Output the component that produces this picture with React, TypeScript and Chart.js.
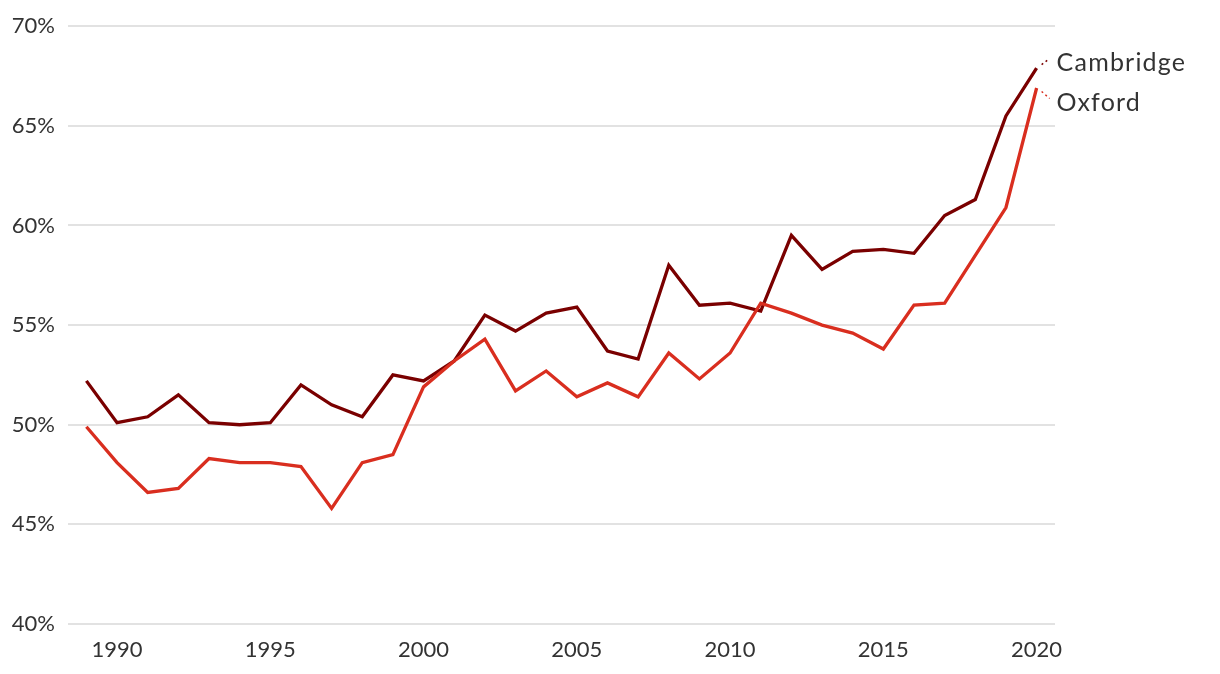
import React, { useEffect, useRef } from "react";
import { Chart, registerables } from "chart.js";

Chart.register(...registerables);

const years = [
  1989, 1990, 1991, 1992, 1993, 1994, 1995, 1996, 1997, 1998, 1999, 2000, 2001,
  2002, 2003, 2004, 2005, 2006, 2007, 2008, 2009, 2010, 2011, 2012, 2013, 2014,
  2015, 2016, 2017, 2018, 2019, 2020,
];

const cambridge = [
  52.2, 50.1, 50.4, 51.5, 50.1, 50.0, 50.1, 52.0, 51.0, 50.4, 52.5, 52.2, 53.2,
  55.5, 54.7, 55.6, 55.9, 53.7, 53.3, 58.0, 56.0, 56.1, 55.7, 59.5, 57.8, 58.7,
  58.8, 58.6, 60.5, 61.3, 65.5, 67.9,
];

const oxford = [
  49.9, 48.1, 46.6, 46.8, 48.3, 48.1, 48.1, 47.9, 45.8, 48.1, 48.5, 51.9, 53.2,
  54.3, 51.7, 52.7, 51.4, 52.1, 51.4, 53.6, 52.3, 53.6, 56.1, 55.6, 55.0, 54.6,
  53.8, 56.0, 56.1, 58.5, 60.9, 66.9,
];

const xTickYears = [1990, 1995, 2000, 2005, 2010, 2015, 2020];
const yTickValues = [40, 45, 50, 55, 60, 65, 70];

const seriesNames = ["Cambridge", "Oxford"];

const FONT = "Lato, 'Noto Sans', sans-serif";
const TEXT = "#333333";

const endLabels = {
  id: "endLabels",
  afterDatasetsDraw(chart: any, _args: any, opts: any) {
    const ctx = chart.ctx;
    const offsets: Record<string, number> = opts.offsets || {};
    chart.data.datasets.forEach((ds: any, i: number) => {
      const meta = chart.getDatasetMeta(i);
      const pt = meta.data[meta.data.length - 1];
      if (!pt) return;
      const x = pt.x;
      const y = pt.y;
      const labelY = y + (offsets[ds.label] ?? 0);
      const labelX = x + 20;
      const dir = labelY - 4.5 < y ? -1 : 1;
      ctx.save();
      ctx.strokeStyle = ds.borderColor;
      ctx.lineWidth = 1.5;
      ctx.setLineDash([2, 3]);
      ctx.beginPath();
      ctx.moveTo(x + 5, y + dir * 3.5);
      ctx.lineTo(x + 13, labelY - 4.5);
      ctx.stroke();
      ctx.setLineDash([]);
      ctx.fillStyle = TEXT;
      ctx.font = `25px ${FONT}`;
      try {
        (ctx as any).letterSpacing = "1.2px";
      } catch (e) {}
      ctx.textAlign = "left";
      ctx.textBaseline = "middle";
      ctx.fillText(ds.label, labelX, labelY);
      ctx.restore();
    });
  },
};

export default function App() {
  const ref = useRef<HTMLCanvasElement | null>(null);

  useEffect(() => {
    if (!ref.current) return;
    const toPts = (arr: number[]) => years.map((yr, i) => ({ x: yr, y: arr[i] }));
    const chart = new Chart(ref.current, {
      type: "line",
      data: {
        datasets: [
          {
            label: seriesNames[1],
            data: toPts(oxford),
            borderColor: "#d92e1f",
            borderWidth: 3.3,
            pointRadius: 0,
            tension: 0,
          },
          {
            label: seriesNames[0],
            data: toPts(cambridge),
            borderColor: "#7a0000",
            borderWidth: 3.3,
            pointRadius: 0,
            tension: 0,
          },
        ],
      },
      options: {
        animation: false,
        responsive: false,
        layout: { padding: { top: 24, right: 165, left: 0, bottom: 0 } },
        plugins: {
          legend: { display: false },
          tooltip: { enabled: false },
          endLabels: { offsets: { Cambridge: -5, Oxford: 15 } },
        } as any,
        scales: {
          x: {
            type: "linear",
            min: 1988.4,
            max: 2020.6,
            afterBuildTicks: (scale: any) => {
              scale.ticks = xTickYears.map((v) => ({ value: v }));
            },
            afterFit: (scale: any) => {
              scale.height = 50;
            },
            grid: { display: false, drawTicks: false },
            border: { display: false },
            ticks: {
              padding: 13,
              color: TEXT,
              font: { family: FONT, size: 22 },
              callback: (v: any) => String(v),
              maxRotation: 0,
            },
          },
          y: {
            min: 40,
            max: 70,
            afterBuildTicks: (scale: any) => {
              scale.ticks = yTickValues.map((v) => ({ value: v }));
            },
            afterFit: (scale: any) => {
              scale.width = 68;
            },
            grid: { color: "#e2e2e2", lineWidth: 2, drawTicks: false },
            border: { display: false },
            ticks: {
              padding: 13,
              color: TEXT,
              font: { family: FONT, size: 22 },
              callback: (v: any) => `${v}%`,
            },
          },
        },
      },
      plugins: [endLabels],
    });
    return () => chart.destroy();
  }, []);

  return (
    <div style={{ position: "absolute", left: 0, top: 0, width: 1220, height: 674, background: "#fff" }}>
      <canvas ref={ref} width={1220} height={674} style={{ display: "block" }} />
    </div>
  );
}
